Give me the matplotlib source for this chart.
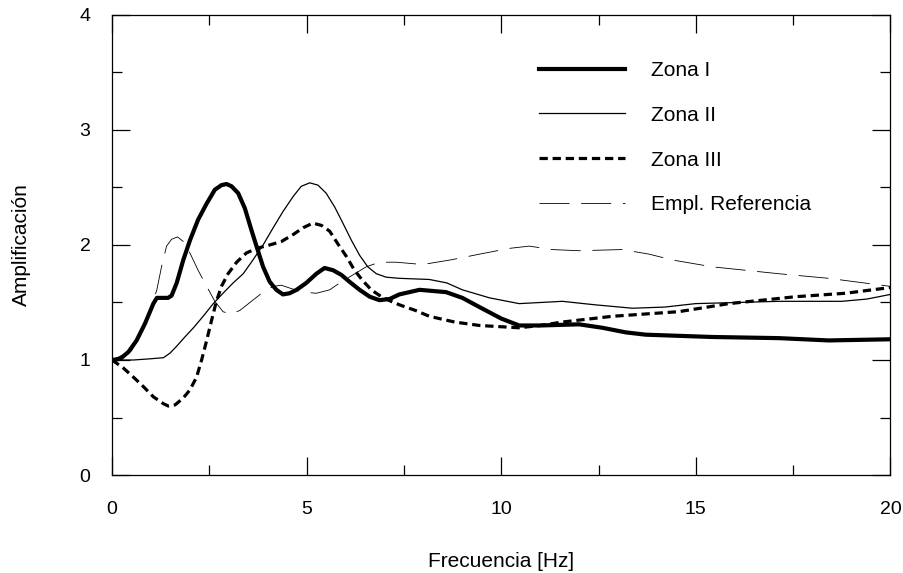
import matplotlib
matplotlib.use('Agg')
import matplotlib.pyplot as plt
from matplotlib.ticker import MultipleLocator

plt.rcParams['font.family'] = ['Liberation Sans', 'DejaVu Sans']

# Values
zona1_f = [0, 0.21, 0.42, 0.63, 0.85, 1.06, 1.15, 1.44, 1.53, 1.66, 1.83, 2.0,
           2.21, 2.43, 2.64, 2.81, 2.94, 3.07, 3.24, 3.41, 3.58, 3.71, 3.88,
           4.05, 4.22, 4.39, 4.56, 4.74, 4.99, 5.25, 5.46, 5.68, 5.89, 6.10,
           6.36, 6.62, 6.87, 7.13, 7.38, 7.90, 8.58, 9.0, 9.44, 10.0, 10.46,
           11.0, 12.0, 12.6, 13.2, 13.71, 15.42, 17.13, 18.41, 20.0]
zona1_a = [1.0, 1.01, 1.07, 1.17, 1.32, 1.49, 1.54, 1.54, 1.56, 1.67, 1.87, 2.04,
           2.22, 2.36, 2.48, 2.52, 2.53, 2.51, 2.45, 2.32, 2.13, 1.99, 1.81,
           1.68, 1.61, 1.57, 1.58, 1.61, 1.67, 1.75, 1.80, 1.78, 1.74, 1.68,
           1.61, 1.55, 1.52, 1.53, 1.57, 1.61, 1.59, 1.54, 1.46, 1.36, 1.30,
           1.30, 1.31, 1.28, 1.24, 1.22, 1.20, 1.19, 1.17, 1.18]

zona2_f = [0, 0.55, 0.97, 1.32, 1.49, 1.66, 1.87, 2.09, 2.34, 2.60, 2.85, 3.11,
           3.37, 3.62, 3.88, 4.14, 4.39, 4.65, 4.86, 5.08, 5.29, 5.50, 5.72,
           5.93, 6.15, 6.36, 6.57, 6.79, 7.04, 7.38, 8.15, 8.6, 9.0, 9.7,
           10.46, 11.57, 12.4, 13.37, 14.2, 14.99, 17.13, 18.75, 19.4, 20.0]
zona2_a = [1.0, 1.0, 1.01, 1.02, 1.06, 1.12, 1.20, 1.28, 1.38, 1.49, 1.58, 1.67,
           1.75, 1.87, 2.0, 2.15, 2.29, 2.42, 2.51, 2.54, 2.52, 2.45, 2.33,
           2.19, 2.04, 1.91, 1.81, 1.75, 1.72, 1.71, 1.70, 1.67, 1.61, 1.54,
           1.49, 1.51, 1.48, 1.45, 1.46, 1.49, 1.51, 1.51, 1.53, 1.57]

zona3_f = [0, 0.29, 0.55, 0.80, 1.06, 1.32, 1.44, 1.62, 1.83, 2.0, 2.17, 2.30,
           2.43, 2.56, 2.68, 2.81, 2.98, 3.20, 3.45, 3.71, 4.05, 4.35, 4.65,
           4.91, 5.16, 5.38, 5.59, 5.80, 6.02, 6.23, 6.44, 6.66, 6.92, 7.17,
           7.38, 7.8, 8.15, 8.8, 9.44, 10.46, 11.0, 11.57, 12.86, 14.56,
           15.85, 17.56, 18.84, 20.0]
zona3_a = [1.0, 0.93, 0.85, 0.77, 0.68, 0.62, 0.60, 0.61, 0.67, 0.74, 0.85, 1.0,
           1.17, 1.35, 1.51, 1.64, 1.75, 1.85, 1.93, 1.97, 2.0, 2.03, 2.09,
           2.15, 2.19, 2.17, 2.12, 2.01, 1.90, 1.78, 1.69, 1.61, 1.55, 1.51,
           1.48, 1.43, 1.38, 1.33, 1.30, 1.28, 1.30, 1.33, 1.38, 1.42,
           1.49, 1.55, 1.58, 1.63]

ref_f = [0, 0.5, 0.85, 1.15, 1.27, 1.40, 1.53, 1.68, 1.83, 2.0, 2.21, 2.43,
         2.64, 2.85, 3.03, 3.28, 3.58, 3.88, 4.14, 4.35, 4.61, 4.91, 5.25,
         5.59, 5.85, 6.19, 6.53, 6.87, 7.30, 7.98, 8.7, 9.44, 10.2, 10.72,
         11.3, 12.0, 13.11, 13.8, 14.39, 15.42, 17.13, 18.41, 20.0]
ref_a = [1.0, 1.08, 1.30, 1.61, 1.81, 1.99, 2.05, 2.07, 2.03, 1.93, 1.78, 1.64,
         1.51, 1.42, 1.40, 1.43, 1.51, 1.59, 1.64, 1.65, 1.62, 1.59, 1.58,
         1.61, 1.67, 1.74, 1.81, 1.85, 1.85, 1.83, 1.87, 1.92, 1.97, 1.99,
         1.96, 1.95, 1.96, 1.92, 1.87, 1.81, 1.75, 1.71, 1.64]

fig = plt.figure(figsize=(9.04, 5.73), dpi=100)
ax = fig.add_axes([0.124, 0.171, 0.861, 0.803])

ax.plot(zona1_f, zona1_a, color='black', linewidth=3.0, label='Zona I',
        solid_joinstyle='round')
ax.plot(zona2_f, zona2_a, color='black', linewidth=0.9, label='Zona II')
ax.plot(zona3_f, zona3_a, color='black', linewidth=2.3, linestyle=(0, (2.6, 1.5)),
        label='Zona III')
ax.plot(ref_f, ref_a, color='black', linewidth=0.6, linestyle=(0, (36, 14)),
        label='Empl. Referencia')

ax.set_xlim(0, 20)
ax.set_ylim(0, 4)
ax.xaxis.set_major_locator(MultipleLocator(5))
ax.xaxis.set_minor_locator(MultipleLocator(2.5))
ax.yaxis.set_major_locator(MultipleLocator(1))
ax.yaxis.set_minor_locator(MultipleLocator(0.5))
ax.tick_params(which='both', direction='in', top=True, right=True,
               labelsize=14, width=0.9)
ax.tick_params(which='major', length=13)
ax.tick_params(which='minor', length=7)
ax.tick_params(axis='x', which='both', pad=18.5)
ax.tick_params(axis='y', which='both', pad=15.5)
for s in ax.spines.values():
    s.set_linewidth(0.9)

ax.set_xlabel('Frecuencia [Hz]', fontsize=15, labelpad=25)
ax.set_ylabel('Amplificación', fontsize=15, labelpad=35)

ax.legend(loc='upper left', bbox_to_anchor=(0.549, 0.90), frameon=False,
          fontsize=15, handlelength=4.1, handletextpad=1.25, labelspacing=1.24,
          borderpad=0, borderaxespad=0)

plt.savefig('out.png', dpi=100)
